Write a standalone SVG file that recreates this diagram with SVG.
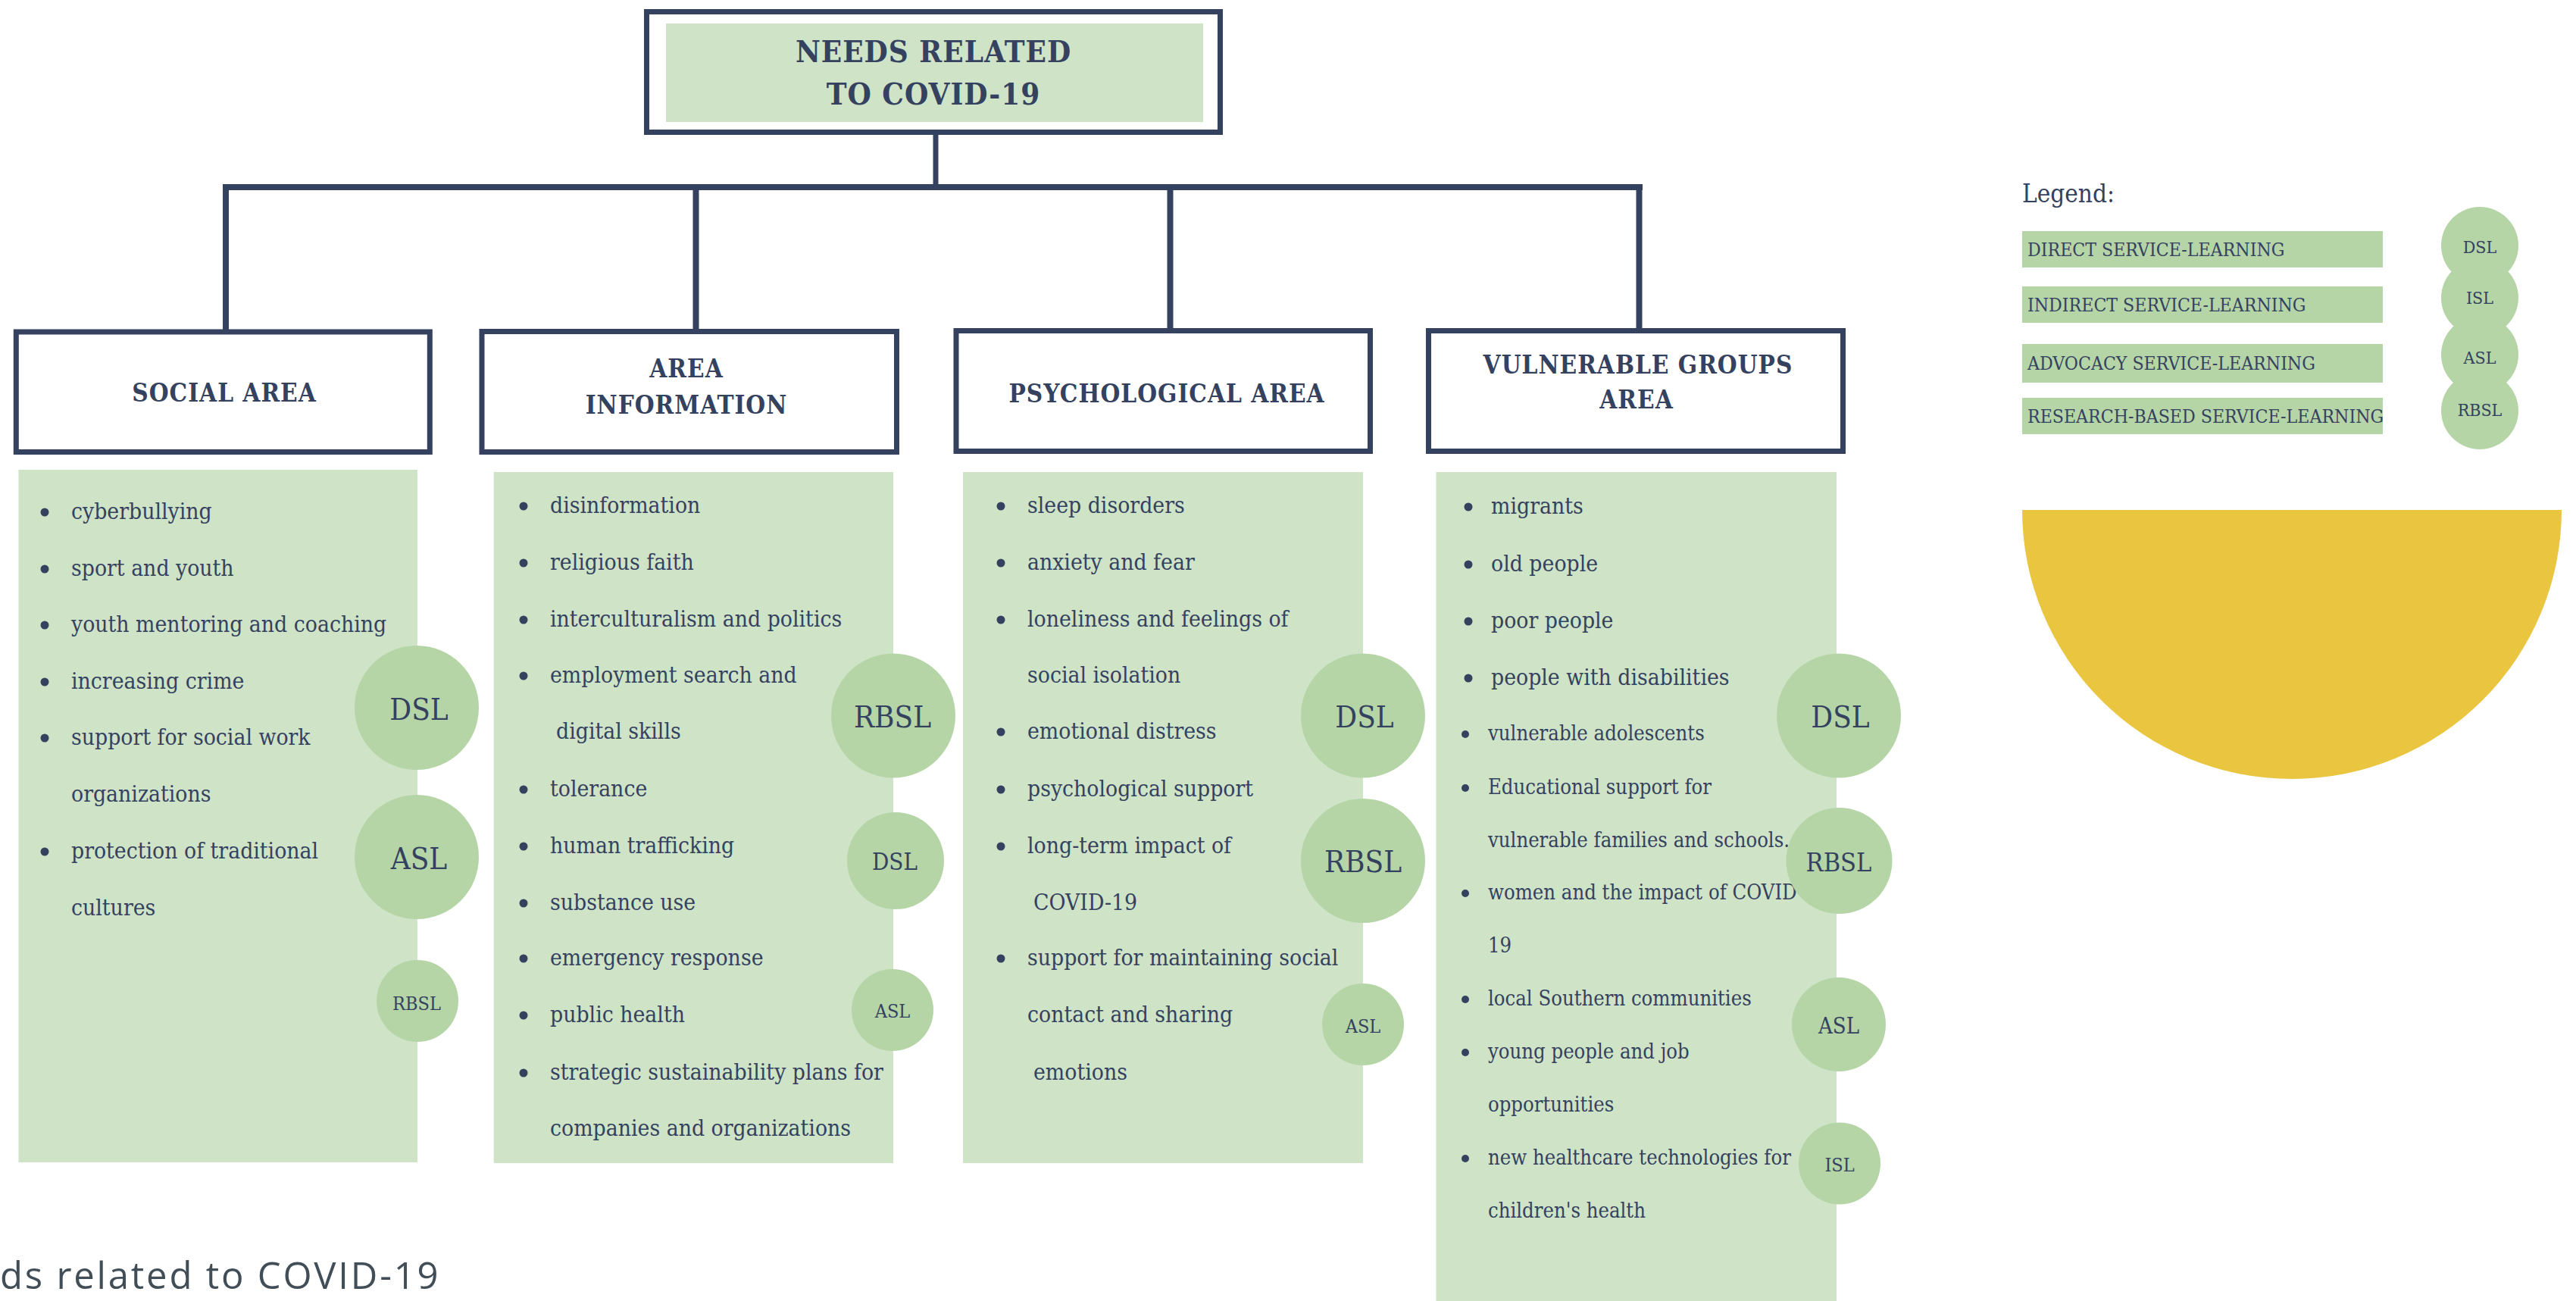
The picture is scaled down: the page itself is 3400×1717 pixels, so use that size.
<svg xmlns="http://www.w3.org/2000/svg" width="3400" height="1717" viewBox="0 0 3400 1717">
  <style>
    .frame { fill: #ffffff; stroke: #34425f; stroke-width: 7; }
    .panel { fill: #cfe3c7; }
    .badge { fill: #b5d5a7; }
    .head { font-family: "DejaVu Serif Condensed", "DejaVu Serif", "Liberation Serif", serif; font-weight: bold; fill: #34425f; text-anchor: middle; letter-spacing: 1px; }
    .item { font-family: "DejaVu Serif Condensed", "DejaVu Serif", "Liberation Serif", serif; fill: #34425f; font-size: 29.8px; }
    .item-s { font-family: "DejaVu Serif Condensed", "DejaVu Serif", "Liberation Serif", serif; fill: #34425f; font-size: 27.2px; }
    .tag { font-family: "DejaVu Serif Condensed", "DejaVu Serif", "Liberation Serif", serif; fill: #34425f; text-anchor: middle; }
    .dot { fill: #34425f; }
    .wire { fill: #34425f; }
    .leg { font-family: "DejaVu Serif Condensed", "DejaVu Serif", "Liberation Serif", serif; fill: #34425f; font-size: 24.6px; }
    .leg-title { font-family: "DejaVu Serif Condensed", "DejaVu Serif", "Liberation Serif", serif; fill: #34425f; font-size: 33px; }
  </style>

  <!-- connectors: trunk, bus bar and drops -->
  <g id="connectors">
    <rect class="wire" x="1231.5" y="176" width="7" height="70"/>
    <rect class="wire" x="294" y="243" width="1874" height="8"/>
    <rect class="wire" x="294" y="247" width="8" height="190"/>
    <rect class="wire" x="914.5" y="247" width="8" height="190"/>
    <rect class="wire" x="1540.5" y="247" width="8" height="190"/>
    <rect class="wire" x="2159.5" y="247" width="8" height="190"/>
  </g>

  <!-- root -->
  <g id="root">
    <rect class="frame" x="853.5" y="15.5" width="757" height="159"/>
    <rect class="panel" x="879" y="31" width="709" height="130"/>
    <text class="head" x="1232" y="82" font-size="40">NEEDS RELATED</text>
    <text class="head" x="1232" y="138" font-size="40">TO COVID-19</text>
  </g>

  <!-- area headers -->
  <g id="social-area">
    <rect class="frame" x="21.3" y="438" width="546" height="158.5"/>
    <text class="head" x="296" y="530" font-size="33">SOCIAL AREA</text>
  </g>
  <g id="area-information">
    <rect class="frame" x="636" y="437.5" width="547.5" height="159"/>
    <text class="head" x="906" y="498" font-size="33">AREA</text>
    <text class="head" x="906" y="546" font-size="33">INFORMATION</text>
  </g>
  <g id="psychological-area">
    <rect class="frame" x="1262" y="436.5" width="546.5" height="159"/>
    <text class="head" x="1540" y="531" font-size="33">PSYCHOLOGICAL AREA</text>
  </g>
  <g id="vulnerable-groups-area">
    <rect class="frame" x="1885.5" y="436.5" width="547" height="159"/>
    <text class="head" x="2162" y="493" font-size="33">VULNERABLE GROUPS</text>
    <text class="head" x="2160" y="539" font-size="33">AREA</text>
  </g>

  <!-- social list -->
  <g id="social-list">
    <rect class="panel" x="24.5" y="620" width="526.5" height="914"/>
    <g class="dot">
      <circle cx="59" cy="676" r="5.5"/>
      <circle cx="59" cy="751" r="5.5"/>
      <circle cx="59" cy="825" r="5.5"/>
      <circle cx="59" cy="900" r="5.5"/>
      <circle cx="59" cy="974" r="5.5"/>
      <circle cx="59" cy="1124" r="5.5"/>
    </g>
    <text class="item" x="94" y="685">cyberbullying</text>
    <text class="item" x="94" y="760">sport and youth</text>
    <text class="item" x="94" y="834">youth mentoring and coaching</text>
    <text class="item" x="94" y="909">increasing crime</text>
    <text class="item" x="94" y="983">support for social work</text>
    <text class="item" x="94" y="1058">organizations</text>
    <text class="item" x="94" y="1133">protection of traditional</text>
    <text class="item" x="94" y="1208">cultures</text>
    <circle class="badge" cx="550" cy="934" r="82"/>
    <text class="tag" x="553" y="950" font-size="40">DSL</text>
    <circle class="badge" cx="550" cy="1131" r="82"/>
    <text class="tag" x="553" y="1147" font-size="40">ASL</text>
    <circle class="badge" cx="551" cy="1321" r="54"/>
    <text class="tag" x="550" y="1333" font-size="25">RBSL</text>
  </g>

  <!-- information list -->
  <g id="information-list">
    <rect class="panel" x="651.6" y="623" width="527.4" height="912"/>
    <g class="dot">
      <circle cx="691" cy="668" r="5.5"/>
      <circle cx="691" cy="743" r="5.5"/>
      <circle cx="691" cy="818" r="5.5"/>
      <circle cx="691" cy="892" r="5.5"/>
      <circle cx="691" cy="1042" r="5.5"/>
      <circle cx="691" cy="1117" r="5.5"/>
      <circle cx="691" cy="1192" r="5.5"/>
      <circle cx="691" cy="1265" r="5.5"/>
      <circle cx="691" cy="1340" r="5.5"/>
      <circle cx="691" cy="1416" r="5.5"/>
    </g>
    <text class="item" x="726" y="677">disinformation</text>
    <text class="item" x="726" y="752">religious faith</text>
    <text class="item" x="726" y="827">interculturalism and politics</text>
    <text class="item" x="726" y="901">employment search and</text>
    <text class="item" x="734" y="975">digital skills</text>
    <text class="item" x="726" y="1051">tolerance</text>
    <text class="item" x="726" y="1126">human trafficking</text>
    <text class="item" x="726" y="1201">substance use</text>
    <text class="item" x="726" y="1274">emergency response</text>
    <text class="item" x="726" y="1349">public health</text>
    <text class="item" x="726" y="1425">strategic sustainability plans for</text>
    <text class="item" x="726" y="1499">companies and organizations</text>
    <circle class="badge" cx="1179" cy="944.5" r="82"/>
    <text class="tag" x="1178" y="960" font-size="40">RBSL</text>
    <circle class="badge" cx="1182" cy="1136" r="64"/>
    <text class="tag" x="1181" y="1148" font-size="31">DSL</text>
    <circle class="badge" cx="1178" cy="1333" r="54"/>
    <text class="tag" x="1178" y="1343" font-size="25">ASL</text>
  </g>

  <!-- psychological list -->
  <g id="psychological-list">
    <rect class="panel" x="1271" y="623" width="528" height="912"/>
    <g class="dot">
      <circle cx="1321" cy="668" r="5.5"/>
      <circle cx="1321" cy="743" r="5.5"/>
      <circle cx="1321" cy="818" r="5.5"/>
      <circle cx="1321" cy="966" r="5.5"/>
      <circle cx="1321" cy="1042" r="5.5"/>
      <circle cx="1321" cy="1117" r="5.5"/>
      <circle cx="1321" cy="1265" r="5.5"/>
    </g>
    <text class="item" x="1356" y="677">sleep disorders</text>
    <text class="item" x="1356" y="752">anxiety and fear</text>
    <text class="item" x="1356" y="827">loneliness and feelings of</text>
    <text class="item" x="1356" y="901">social isolation</text>
    <text class="item" x="1356" y="975">emotional distress</text>
    <text class="item" x="1356" y="1051">psychological support</text>
    <text class="item" x="1356" y="1126">long-term impact of</text>
    <text class="item" x="1364" y="1201">COVID-19</text>
    <text class="item" x="1356" y="1274">support for maintaining social</text>
    <text class="item" x="1356" y="1349">contact and sharing</text>
    <text class="item" x="1364" y="1425">emotions</text>
    <circle class="badge" cx="1799" cy="944.5" r="82"/>
    <text class="tag" x="1801" y="960" font-size="40">DSL</text>
    <circle class="badge" cx="1799" cy="1136" r="82"/>
    <text class="tag" x="1799" y="1151" font-size="40">RBSL</text>
    <circle class="badge" cx="1799" cy="1352" r="54"/>
    <text class="tag" x="1799" y="1363" font-size="25">ASL</text>
  </g>

  <!-- vulnerable groups list -->
  <g id="vulnerable-list">
    <rect class="panel" x="1895.5" y="623" width="528.5" height="1094"/>
    <g class="dot">
      <circle cx="1938" cy="669" r="5.5"/>
      <circle cx="1938" cy="745" r="5.5"/>
      <circle cx="1938" cy="820" r="5.5"/>
      <circle cx="1938" cy="895" r="5.5"/>
      <circle cx="1934" cy="969" r="5"/>
      <circle cx="1934" cy="1040" r="5"/>
      <circle cx="1934" cy="1179" r="5"/>
      <circle cx="1934" cy="1319" r="5"/>
      <circle cx="1934" cy="1389" r="5"/>
      <circle cx="1934" cy="1529" r="5"/>
    </g>
    <text class="item" x="1968" y="678">migrants</text>
    <text class="item" x="1968" y="754">old people</text>
    <text class="item" x="1968" y="829">poor people</text>
    <text class="item" x="1968" y="904">people with disabilities</text>
    <text class="item-s" x="1964" y="977">vulnerable adolescents</text>
    <text class="item-s" x="1964" y="1048">Educational support for</text>
    <text class="item-s" x="1964" y="1118">vulnerable families and schools.</text>
    <text class="item-s" x="1964" y="1187">women and the impact of COVID</text>
    <text class="item-s" x="1964" y="1257">19</text>
    <text class="item-s" x="1964" y="1327">local Southern communities</text>
    <text class="item-s" x="1964" y="1397">young people and job</text>
    <text class="item-s" x="1964" y="1467">opportunities</text>
    <text class="item-s" x="1964" y="1537">new healthcare technologies for</text>
    <text class="item-s" x="1964" y="1607">children's health</text>
    <circle class="badge" cx="2427" cy="944.5" r="82"/>
    <text class="tag" x="2429" y="960" font-size="40">DSL</text>
    <circle class="badge" cx="2427.5" cy="1136" r="70"/>
    <text class="tag" x="2427" y="1150" font-size="34">RBSL</text>
    <circle class="badge" cx="2427" cy="1352" r="62"/>
    <text class="tag" x="2427" y="1364" font-size="29">ASL</text>
    <circle class="badge" cx="2428" cy="1535.5" r="54"/>
    <text class="tag" x="2428" y="1546" font-size="25">ISL</text>
  </g>

  <!-- key -->
  <g id="legend">
    <text class="leg-title" x="2669" y="267">Legend:</text>
    <rect class="badge" x="2669" y="305" width="476" height="48"/>
    <rect class="badge" x="2669" y="378" width="476" height="48"/>
    <rect class="badge" x="2669" y="454" width="476" height="51"/>
    <rect class="badge" x="2669" y="525" width="476" height="48"/>
    <text class="leg" x="2676" y="338">DIRECT SERVICE-LEARNING</text>
    <text class="leg" x="2676" y="411">INDIRECT SERVICE-LEARNING</text>
    <text class="leg" x="2676" y="488">ADVOCACY SERVICE-LEARNING</text>
    <text class="leg" x="2676" y="558">RESEARCH-BASED SERVICE-LEARNING</text>
    <circle class="badge" cx="3273" cy="324" r="51"/>
    <circle class="badge" cx="3273" cy="393" r="51"/>
    <circle class="badge" cx="3273" cy="468" r="51"/>
    <circle class="badge" cx="3273" cy="542" r="51"/>
    <text class="tag" x="3273" y="334" font-size="23">DSL</text>
    <text class="tag" x="3273" y="401" font-size="23">ISL</text>
    <text class="tag" x="3273" y="480" font-size="23">ASL</text>
    <text class="tag" x="3273" y="549" font-size="23">RBSL</text>
  </g>

  <!-- yellow half disc -->
  <path d="M 2669 673 A 356 355 0 0 0 3381 673 Z" fill="#eac640"/>

  <!-- caption -->
  <text x="0" y="1701" font-family="'Open Sans', 'Liberation Sans', sans-serif" font-size="49" letter-spacing="2.8" fill="#414e57">ds related to COVID-19</text>
</svg>
